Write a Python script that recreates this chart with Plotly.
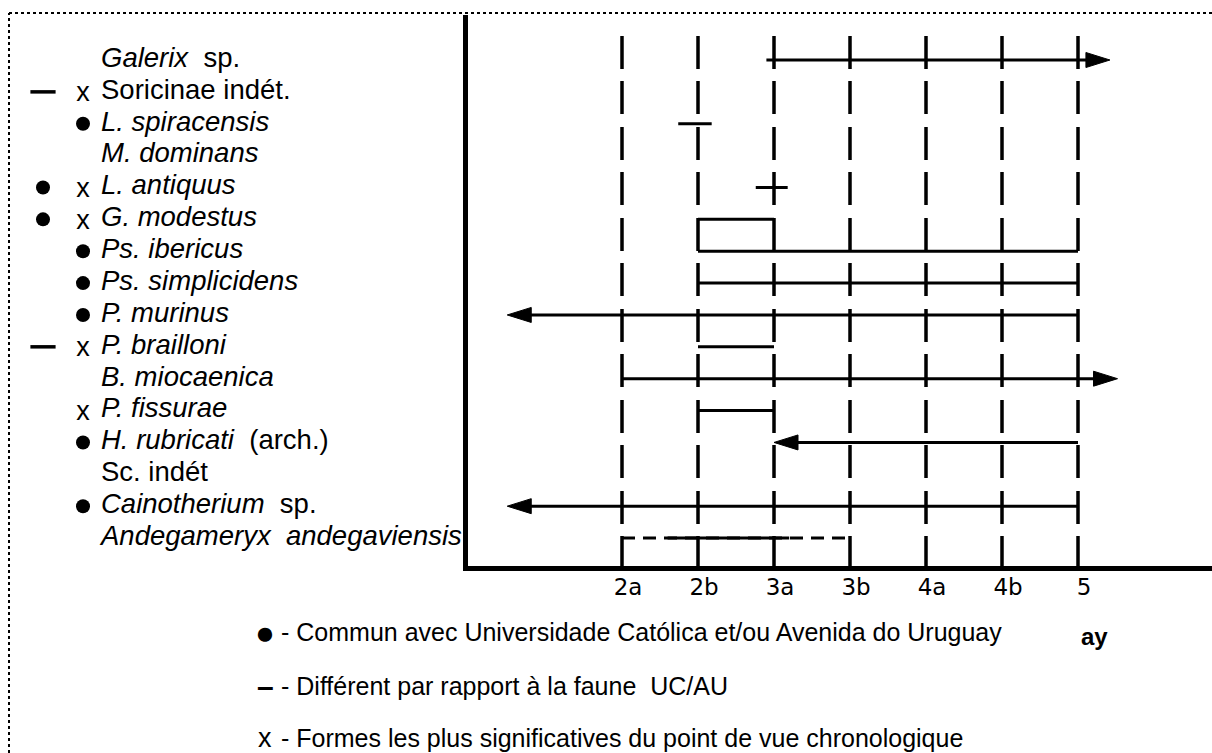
import plotly.graph_objects as go

# ---------------- data ----------------
stages = ["2a", "2b", "3a", "3b", "4a", "4b", "5"]

species = [
    "<i>Galerix</i>\u00a0 sp.",
    "Soricinae indét.",
    "<i>L. spiracensis</i>",
    "<i>M. dominans</i>",
    "<i>L. antiquus</i>",
    "<i>G. modestus</i>",
    "<i>Ps. ibericus</i>",
    "<i>Ps. simplicidens</i>",
    "<i>P. murinus</i>",
    "<i>P. brailloni</i>",
    "<i>B. miocaenica</i>",
    "<i>P. fissurae</i>",
    "<i>H. rubricati</i>\u00a0 (arch.)",
    "Sc. indét",
    "<i>Cainotherium</i>\u00a0 sp.",
    "<i>Andegameryx</i>\u00a0 <i>andegaviensis</i>",
]
left_mark = ["", "–", "", "", "●", "●", "", "", "", "–", "", "", "", "", "", ""]
mid_mark = ["", "x", "●", "", "x", "x", "●", "●", "●", "x", "", "x", "●", "", "●", ""]

# stratigraphic ranges, in stage-index units (2a = 0 ... 5 = 6)
bar_row = [2, 4, 5, 6, 7, 9, 11]
bar_start = [0.74, 1.76, 1.0, 1.0, 1.0, 1.0, 1.0]
bar_end = [1.18, 2.18, 2.0, 6.0, 6.0, 2.0, 2.0]

arrow_row = [0, 10, 8, 12, 14]
arrow_start = [1.9, 0.0, 6.0, 6.0, 6.0]
arrow_tip = [6.42, 6.52, -1.51, 2.0, -1.51]

unc_row = [15]
unc_start = [0.0]
unc_end = [3.0]
cert_start = [0.6]
cert_end = [2.2]

legend_marks = ["●", "–", "x"]
legend_texts = [
    "- Commun avec Universidade Católica et/ou Avenida do Uruguay",
    "- Différent par rapport à la faune\u00a0 UC/AU",
    "- Formes les plus significatives du point de vue chronologique",
]

# ---------------- geometry (pixels) ----------------
W, H = 1212, 753
plot_left, plot_top, plot_bottom = 468, 15, 566
x0_px, stage_px = 622, 76.0
row0_px, row_px = 60, 31.87
dash_top_px = 36

xr = [(plot_left - x0_px) / stage_px, (W - x0_px) / stage_px]
yr = [(plot_bottom - row0_px) / row_px, (plot_top - row0_px) / row_px]
head_len = 24 / stage_px
head_half = 7.5 / row_px

FONT = "Liberation Sans, Arial, Helvetica, sans-serif"
fig = go.Figure()

# vertical dashed stage lines
for i, s in enumerate(stages):
    fig.add_trace(go.Scatter(
        x=[i, i], y=[(dash_top_px - row0_px) / row_px, yr[0]],
        mode="lines", line=dict(color="black", width=3.5, dash="33px,12px,33px,13px"),
        hoverinfo="skip", showlegend=False))

# simple ranges
for r, a, b in zip(bar_row, bar_start, bar_end):
    fig.add_trace(go.Scatter(x=[a, b], y=[r, r], mode="lines",
                             line=dict(color="black", width=3), showlegend=False, hoverinfo="skip"))

# arrows
for r, a, t in zip(arrow_row, arrow_start, arrow_tip):
    d = 1 if t > a else -1
    fig.add_trace(go.Scatter(x=[a, t - d * head_len * 0.7], y=[r, r], mode="lines",
                             line=dict(color="black", width=3), showlegend=False, hoverinfo="skip"))
    fig.add_trace(go.Scatter(
        x=[t, t - d * head_len, t - d * head_len, t],
        y=[r, r - head_half, r + head_half, r],
        mode="lines", fill="toself", fillcolor="black",
        line=dict(color="black", width=1), showlegend=False, hoverinfo="skip"))

# uncertain + certain range (Andegameryx)
for r, a, b, c1, c2 in zip(unc_row, unc_start, unc_end, cert_start, cert_end):
    fig.add_trace(go.Scatter(x=[a, b], y=[r, r], mode="lines",
                             line=dict(color="black", width=3, dash="13px,8px"),
                             showlegend=False, hoverinfo="skip"))
    fig.add_trace(go.Scatter(x=[c1, c2], y=[r, r], mode="lines",
                             line=dict(color="black", width=3),
                             showlegend=False, hoverinfo="skip"))

rows = list(range(len(species)))

# species labels (left panel, pixel axis x2)
fig.add_trace(go.Scatter(
    x=[101] * len(species), y=rows, text=species, mode="text",
    textposition="middle right", textfont=dict(family=FONT, size=27.5, color="black"),
    xaxis="x2", yaxis="y", showlegend=False, hoverinfo="skip", cliponaxis=False))


def add_marks(marks, xpos):
    dot_y = [r for r, m in zip(rows, marks) if m == "●"]
    dash_y = [r for r, m in zip(rows, marks) if m == "–"]
    x_y = [r for r, m in zip(rows, marks) if m == "x"]
    if dot_y:
        fig.add_trace(go.Scatter(x=[xpos] * len(dot_y), y=dot_y, mode="markers",
                                 marker=dict(symbol="circle", size=14, color="black"),
                                 xaxis="x2", showlegend=False, hoverinfo="skip"))
    if dash_y:
        fig.add_trace(go.Scatter(x=[xpos] * len(dash_y), y=dash_y, mode="markers",
                                 marker=dict(symbol="line-ew", size=18,
                                             line=dict(color="black", width=3.5)),
                                 xaxis="x2", showlegend=False, hoverinfo="skip"))
    if x_y:
        fig.add_trace(go.Scatter(x=[xpos] * len(x_y), y=[r + 0.08 for r in x_y], mode="text",
                                 text=["x"] * len(x_y), textposition="middle center",
                                 textfont=dict(family=FONT, size=27, color="black"),
                                 xaxis="x2", showlegend=False, hoverinfo="skip"))


add_marks(left_mark, 43)
add_marks(mid_mark, 83)

# frame (dotted)
shapes = [
    dict(type="line", xref="paper", yref="paper", x0=9 / W, x1=1, y0=(H - 13) / H, y1=(H - 13) / H,
         line=dict(color="black", width=2, dash="dot")),
    dict(type="line", xref="paper", yref="paper", x0=9 / W, x1=9 / W, y0=0, y1=(H - 13) / H,
         line=dict(color="black", width=2, dash="dot")),
]

# bottom key
annotations = []
key_y = [632, 686, 738]
mark_size = {"●": 33, "–": 30, "x": 27}
mark_txt = {"●": "●", "–": "<b>–</b>", "x": "x"}
for m, t, yy in zip(legend_marks, legend_texts, key_y):
    annotations.append(dict(xref="paper", yref="paper", x=265 / W, y=(H - yy) / H,
                            text=mark_txt[m], showarrow=False, xanchor="center", yanchor="middle",
                            font=dict(family=FONT, size=mark_size[m], color="black")))
    annotations.append(dict(xref="paper", yref="paper", x=279 / W, y=(H - yy) / H,
                            text=t, showarrow=False, xanchor="left", yanchor="middle",
                            font=dict(family=FONT, size=25, color="black")))
annotations.append(dict(xref="paper", yref="paper", x=1094 / W, y=(H - 636) / H,
                        text="<b>ay</b>", showarrow=False, xanchor="center", yanchor="middle",
                        font=dict(family=FONT, size=24, color="black")))

fig.update_layout(
    width=W, height=H, margin=dict(l=0, r=0, t=0, b=0),
    paper_bgcolor="white", plot_bgcolor="white",
    shapes=shapes, annotations=annotations,
    xaxis=dict(domain=[plot_left / W, 1], range=xr, showline=True, linewidth=5, linecolor="black",
               tickvals=list(range(len(stages))), ticktext=stages, ticks="",
               tickfont=dict(family="DejaVu Sans, sans-serif", size=23, color="black"),
               ticklabelstandoff=-4, ticklabelshift=6,
               showgrid=False, zeroline=False, anchor="y", fixedrange=True),
    xaxis2=dict(domain=[0, plot_left / W], range=[0, plot_left], visible=False, anchor="y"),
    yaxis=dict(domain=[(H - plot_bottom) / H, (H - plot_top) / H], range=yr, showline=True,
               linewidth=5, linecolor="black", showticklabels=False, ticks="",
               showgrid=False, zeroline=False, anchor="x"),
)

fig.write_html("out.html", config={"displayModeBar": False},
               post_script="document.body.style.margin='0';")
